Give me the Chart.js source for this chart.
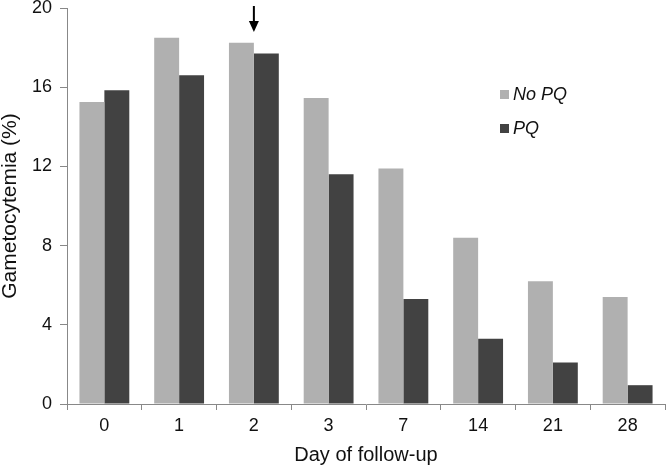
<!DOCTYPE html>
<html>
<head>
<meta charset="utf-8">
<script src="https://cdn.jsdelivr.net/npm/chart.js@4"></script>
<style>
  html, body { margin: 0; padding: 0; background: #fff; }
  #wrap { width: 666px; height: 468px; }
</style>
</head>
<body>
<div id="wrap"><canvas id="myChart" width="666" height="468"></canvas></div>
<script>
const days = ["0", "1", "2", "3", "7", "14", "21", "28"];
const noPQ = [15.25, 18.5, 18.25, 15.45, 11.9, 8.4, 6.2, 5.4];
const withPQ = [15.85, 16.6, 17.7, 11.6, 5.3, 3.3, 2.1, 0.95];
const yTicks = [0, 4, 8, 12, 16, 20];
const arrowDay = "2";

const font = "'Liberation Sans', Arial, sans-serif";

// legend drawn inside the plot area, like the original
const insideLegend = {
  id: "insideLegend",
  afterDraw(chart) {
    const ctx = chart.ctx;
    ctx.save();
    chart.data.datasets.forEach((ds, i) => {
      const y = 95 + i * 34;
      ctx.fillStyle = ds.backgroundColor;
      ctx.fillRect(500, y - 5, 9, 9);
      ctx.fillStyle = "#111";
      ctx.font = "italic 18px " + font;
      ctx.textBaseline = "middle";
      ctx.fillText(ds.label, 513, y);
    });
    ctx.restore();
  },
};

// arrow pointing down between the day 2 bars
const arrow = {
  id: "arrow",
  afterDraw(chart) {
    const ctx = chart.ctx;
    const x = chart.scales.x.getPixelForValue(days.indexOf(arrowDay));
    ctx.save();
    ctx.strokeStyle = "#000";
    ctx.fillStyle = "#000";
    ctx.lineWidth = 2;
    ctx.beginPath();
    ctx.moveTo(x, 6);
    ctx.lineTo(x, 24);
    ctx.stroke();
    ctx.beginPath();
    ctx.moveTo(x - 5, 21);
    ctx.lineTo(x + 5, 21);
    ctx.lineTo(x, 32);
    ctx.closePath();
    ctx.fill();
    ctx.restore();
  },
};

const ctx = document.getElementById("myChart").getContext("2d");
const myChart = new Chart(ctx, {
  type: "bar",
  data: {
    labels: days,
    datasets: [
      {
        label: "No PQ",
        data: noPQ,
        backgroundColor: "#b0b0b0",
        categoryPercentage: 0.667,
        barPercentage: 1,
      },
      {
        label: "PQ",
        data: withPQ,
        backgroundColor: "#424242",
        categoryPercentage: 0.667,
        barPercentage: 1,
      },
    ],
  },
  options: {
    responsive: false,
    animation: false,
    layout: { padding: { top: 8, right: 1, bottom: 0, left: 0 } },
    plugins: {
      legend: { display: false },
      tooltip: { enabled: false },
    },
    scales: {
      x: {
        afterFit(scale) {
          scale.height = 64;
        },
        grid: {
          offset: true,
          drawOnChartArea: false,
          color: "#888",
          tickLength: 6,
        },
        border: { color: "#888", width: 1 },
        ticks: { color: "#111", font: { family: font, size: 18 }, padding: 5 },
        title: {
          display: true,
          text: "Day of follow-up",
          color: "#111",
          font: { family: font, size: 20, lineHeight: 1 },
          padding: { top: 0, bottom: 3 },
        },
      },
      y: {
        min: 0,
        max: 20,
        afterBuildTicks(axis) {
          axis.ticks = yTicks.map((v) => ({ value: v }));
        },
        afterFit(scale) {
          scale.width = 67;
          scale.paddingTop = 0; // let the "20" label sit at the very top
        },
        grid: {
          drawOnChartArea: false,
          color: "#888",
          tickLength: 7,
        },
        border: { color: "#888", width: 1 },
        ticks: {
          color: "#111",
          font: { family: font, size: 18 },
          padding: 8,
        },
        title: {
          display: true,
          text: "Gametocytemia (%)",
          color: "#111",
          font: { family: font, size: 21, lineHeight: 1 },
          padding: { top: 0, bottom: 0 },
        },
      },
    },
  },
  plugins: [insideLegend, arrow],
});
</script>
</body>
</html>
